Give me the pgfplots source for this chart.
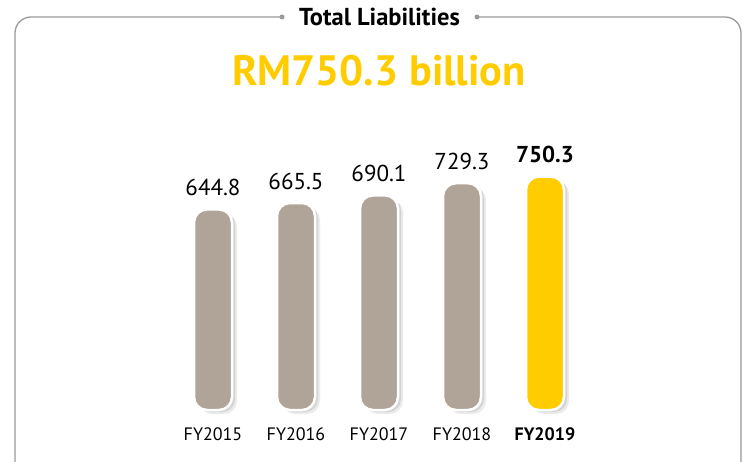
\documentclass[border=0pt]{standalone}
\usepackage{pgfplots}
\pgfplotsset{compat=1.18}
\usepackage{fontspec}
\setmainfont{PT Sans}
\definecolor{barg}{HTML}{B0A398}
\definecolor{gold}{HTML}{FFCC00}
\definecolor{frameg}{HTML}{9A9A9A}
\begin{document}
\begin{tikzpicture}
\path[use as bounding box] (0,0) rectangle (746pt,461pt);
% frame
\draw[frameg, line width=1.3pt, rounded corners=16pt] (282pt,444pt) -- (15pt,444pt) -- (15pt,-20pt);
\draw[frameg, line width=1.3pt, rounded corners=16pt] (477pt,444pt) -- (741pt,444pt) -- (741pt,-20pt);
\fill[frameg] (282pt,444pt) circle (2.5pt);
\fill[frameg] (477pt,444pt) circle (2.5pt);
\node[font=\fontsize{24.5}{26}\selectfont\bfseries] at (379.5pt,444pt) {Total Liabilities};
\node[font=\fontsize{42.5}{48}\selectfont\bfseries, text=gold] at (379pt,390pt) {RM750.3 billion};
\begin{axis}[
  at={(171.5pt,51pt)}, anchor=south west,
  scale only axis, width=415pt, height=248.8pt,
  xmin=-0.5, xmax=4.5, ymin=0, ymax=800,
  axis line style={draw=none},
  ytick=\empty,
  xtick={0,1,2,3,4},
  xticklabels={FY2015,FY2016,FY2017,FY2018,\textbf{FY2019}},
  xtick style={draw=none},
  xticklabel style={font=\fontsize{18}{20}\selectfont, yshift=-10pt},
  ybar, bar width=38pt, bar shift=0pt,
  clip=false,
  /pgf/number format/assume math mode=true,
  /pgf/number format/fixed, /pgf/number format/fixed zerofill, /pgf/number format/precision=1,
]
% shadows
\addplot[fill=black, opacity=0.08, draw=none, rounded corners=13pt, xshift=5pt, yshift=-4pt] coordinates {(0,644.8) (1,665.5) (2,690.1) (3,729.3) (4,750.3)};
\addplot[fill=black, opacity=0.10, draw=none, rounded corners=13pt, xshift=3pt, yshift=-2pt] coordinates {(0,644.8) (1,665.5) (2,690.1) (3,729.3) (4,750.3)};
% bars
\addplot[fill=barg, draw=white, line width=2.5pt, rounded corners=13pt,
  nodes near coords,
  every node near coord/.append style={text=black, anchor=south, yshift=9pt, font=\fontsize{23}{26}\selectfont}] coordinates {(0,644.8) (1,665.5) (2,690.1) (3,729.3)};
\addplot[fill=gold, draw=white, line width=2.5pt, rounded corners=13pt,
  nodes near coords,
  every node near coord/.append style={text=black, anchor=south, yshift=9pt, font=\fontsize{23}{26}\selectfont\bfseries}] coordinates {(4,750.3)};
\end{axis}
\end{tikzpicture}
\end{document}
